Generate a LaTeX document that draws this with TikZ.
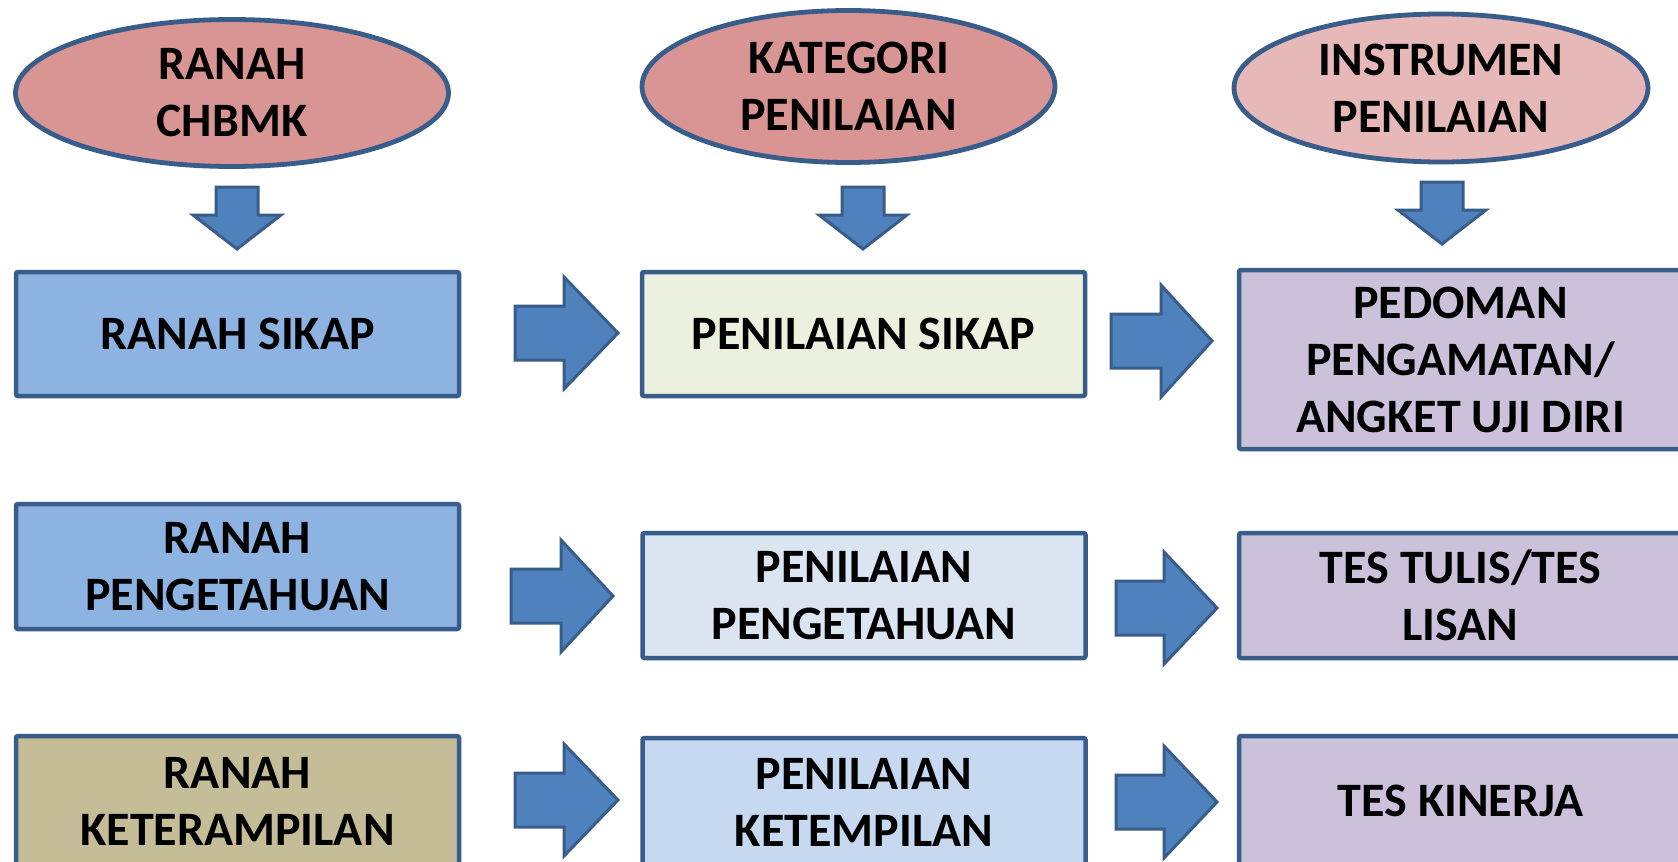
\documentclass[tikz,border=0pt]{standalone}
\usepackage{fontspec}
\setmainfont{Carlito}
\usetikzlibrary{shapes.geometric}
\definecolor{outl}{HTML}{385D8A}
\definecolor{arrowfill}{HTML}{4F81BD}
\definecolor{ellA}{HTML}{D99594}
\definecolor{ellB}{HTML}{E6B9B8}
\definecolor{boxBlue}{HTML}{8DB3E2}
\definecolor{boxTan}{HTML}{C4BD97}
\definecolor{boxGreen}{HTML}{EBF1DE}
\definecolor{boxPale}{HTML}{DBE5F1}
\definecolor{boxLight}{HTML}{C6D9F1}
\definecolor{boxPurple}{HTML}{CCC1DA}
\newcommand{\myrarrow}[4]{%
  \draw[barrow] (#1,{#4-27}) -- (#2,{#4-27}) -- (#2,{#4-56}) -- (#3,#4) -- (#2,{#4+56}) -- (#2,{#4+27}) -- (#1,{#4+27}) -- cycle;}
\newcommand{\mydarrow}[4]{%
  \draw[barrow] ({#1-21},#2) -- ({#1+21},#2) -- ({#1+21},#3) -- ({#1+44},#3) -- (#1,#4) -- ({#1-44},#3) -- ({#1-21},#3) -- cycle;}
\begin{document}
\begin{tikzpicture}[x=0.5pt,y=-0.5pt,
  every node/.style={font=\fontsize{24}{28.5}\selectfont\bfseries, align=center, text=black},
  ell/.style={ellipse, draw=outl, line width=2.4pt, inner sep=0pt},
  bx/.style={rectangle, draw=outl, line width=2.25pt, minimum width=221.5pt, inner sep=0pt, rounded corners=1pt},
  barrow/.style={draw=outl, fill=arrowfill, line width=1.5pt, line join=miter}]
\fill[white] (0,0) rectangle (1678,862);
\useasboundingbox (0,0) rectangle (1678,862);
\clip (0,0) rectangle (1678,862);

% ellipses
\node[ell, fill=ellA, minimum width=216.5pt, minimum height=73.5pt] (e1) at (232,93) {RANAH\\CHBMK};
\node[ell, fill=ellA, minimum width=206.5pt, minimum height=76pt] (e2) at (848.5,86.5) {KATEGORI\\PENILAIAN};
\node[ell, fill=ellB, minimum width=207pt, minimum height=74pt] (e3) at (1441,88) {INSTRUMEN\\PENILAIAN};

% row 1
\node[bx, fill=boxBlue, minimum height=62pt] (b11) at (237.5,334) {RANAH SIKAP};
\node[bx, fill=boxGreen, minimum height=62pt] (b12) at (863.5,334) {PENILAIAN SIKAP};
\node[bx, fill=boxPurple, minimum height=89.5pt] (b13) at (1460.5,359.5) {PEDOMAN\\PENGAMATAN/\\ANGKET UJI DIRI};

% row 2
\node[bx, fill=boxBlue, minimum height=62.5pt] (b21) at (237.5,566.5) {RANAH\\PENGETAHUAN};
\node[bx, fill=boxPale, minimum height=62.5pt] (b22) at (864,595.5) {PENILAIAN\\PENGETAHUAN};
\node[bx, fill=boxPurple, minimum height=62.5pt] (b23) at (1460.5,595.5) {TES TULIS/TES\\LISAN};

% row 3
\node[bx, fill=boxTan, minimum height=65pt] (b31) at (237.5,801) {RANAH\\KETERAMPILAN};
\node[bx, fill=boxLight, minimum height=64pt] (b32) at (864,802) {PENILAIAN\\KETEMPILAN};
\node[bx, fill=boxPurple, minimum height=65pt] (b33) at (1460.5,801) {TES KINERJA};

% down arrows
\mydarrow{237}{187}{215}{249}
\mydarrow{863}{187}{215}{249}
\mydarrow{1442}{182}{210}{244}

% right arrows
\myrarrow{515}{564}{618}{333}
\myrarrow{1111}{1161}{1212}{341}
\myrarrow{511}{561}{613}{596}
\myrarrow{1116}{1164}{1217}{608}
\myrarrow{515}{564}{618}{800}
\myrarrow{1116}{1164}{1217}{802}
\end{tikzpicture}
\end{document}
